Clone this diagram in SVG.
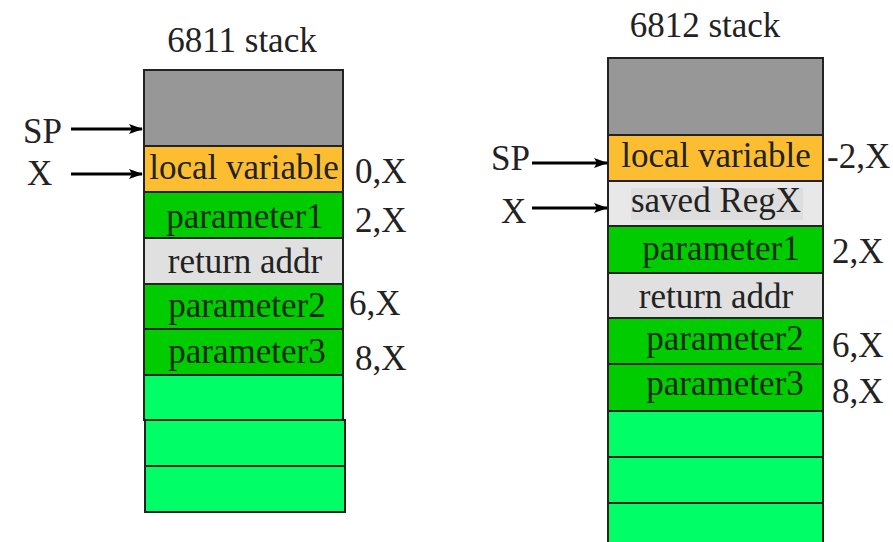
<svg xmlns="http://www.w3.org/2000/svg" width="893" height="542" viewBox="0 0 893 542">
<defs>
<marker id="ah" markerWidth="14" markerHeight="10" refX="13" refY="5" orient="auto" markerUnits="userSpaceOnUse">
<path d="M0,0 L14,5 L0,10 L3,5 Z" fill="#000"/>
</marker>
<style>
text{font-size:35px;fill:#222}
.c{text-anchor:middle}
.cell{stroke:#222;stroke-width:2}
.gray{fill:#979797}
.orange{fill:#FDBD30}
.green{fill:#00CC00}
.lgreen{fill:#00FF66}
.ret{fill:#E0E0E0}
.saved{fill:#E8E8E8}
.pt{fill:#0c2a0c}
.conn{stroke:#000;stroke-width:3;fill:none;marker-end:url(#ah)}
</style>
</defs>
<rect width="893" height="542" fill="#fff"/>
<g font-family="'Liberation Serif', 'DejaVu Serif', 'Times New Roman', serif">
<g id="stack6811">
<text class="c" x="242" y="52">6811 stack</text>
<g id="l-top"><rect class="cell gray" x="144" y="70" width="199" height="76"/></g>
<g id="l-local"><rect class="cell orange" x="144" y="146" width="199" height="46"/><text class="c" x="244" y="179">local variable</text></g>
<g id="l-p1"><rect class="cell green" x="144" y="192" width="199" height="46"/><text class="c pt" x="245" y="228">parameter1</text></g>
<g id="l-ret"><rect class="cell ret" x="144" y="238" width="199" height="46"/><text class="c" x="245" y="273">return addr</text></g>
<g id="l-p2"><rect class="cell green" x="144" y="284" width="199" height="45"/><text class="c pt" x="247" y="317">parameter2</text></g>
<g id="l-p3"><rect class="cell green" x="144" y="329" width="199" height="46"/><text class="c pt" x="247" y="363">parameter3</text></g>
<g id="l-e1"><rect class="cell lgreen" x="144" y="375" width="199" height="45"/></g>
<g id="l-e2"><rect class="cell lgreen" x="145" y="420" width="200" height="46"/></g>
<g id="l-e3"><rect class="cell lgreen" x="145" y="466" width="200" height="46"/></g>
<text x="355" y="183">0,X</text>
<text x="355" y="232">2,X</text>
<text x="349" y="315">6,X</text>
<text x="355" y="370">8,X</text>
<text x="23" y="143">SP</text>
<text x="27" y="185">X</text>
</g>

<g id="stack6812">
<text class="c" x="705" y="37">6812 stack</text>
<g id="r-top"><rect class="cell gray" x="608" y="58" width="215" height="77"/></g>
<g id="r-local"><rect class="cell orange" x="608" y="135" width="215" height="46"/><text class="c" x="716" y="167">local variable</text></g>
<g id="r-saved"><rect class="cell saved" x="608" y="181" width="215" height="45"/><rect x="631" y="188" width="172" height="32" fill="#DEDEDE"/><text class="c" x="716" y="212">saved RegX</text></g>
<g id="r-p1"><rect class="cell green" x="608" y="226" width="215" height="47"/><text class="c pt" x="721" y="260">parameter1</text></g>
<g id="r-ret"><rect class="cell ret" x="608" y="273" width="215" height="45"/><text class="c" x="716" y="308">return addr</text></g>
<g id="r-p2"><rect class="cell green" x="608" y="318" width="215" height="46"/><text class="c pt" x="725" y="350">parameter2</text></g>
<g id="r-p3"><rect class="cell green" x="608" y="364" width="215" height="47"/><text class="c pt" x="725" y="395">parameter3</text></g>
<g id="r-e1"><rect class="cell lgreen" x="608" y="411" width="215" height="46"/></g>
<g id="r-e2"><rect class="cell lgreen" x="608" y="457" width="215" height="46"/></g>
<g id="r-e3"><rect class="cell lgreen" x="608" y="503" width="215" height="46"/></g>
<text x="827" y="168">-2,X</text>
<text x="832" y="263">2,X</text>
<text x="832" y="357">6,X</text>
<text x="832" y="403">8,X</text>
<text x="491" y="170">SP</text>
<text x="501" y="223">X</text>
</g>
</g>
<g id="connectors">
<line class="conn" x1="71" y1="129" x2="142" y2="129"/>
<line class="conn" x1="71" y1="174" x2="142" y2="174"/>
<line class="conn" x1="532" y1="163" x2="607" y2="163"/>
<line class="conn" x1="532" y1="208" x2="607" y2="208"/>
</g>
</svg>
